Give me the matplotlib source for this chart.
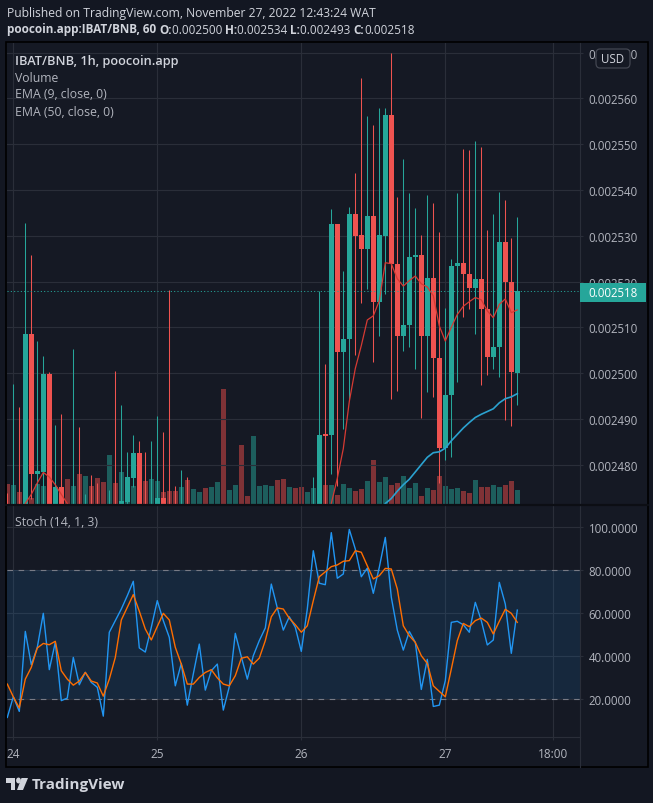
import numpy as np
import matplotlib
matplotlib.use("Agg")
import matplotlib.pyplot as plt
from matplotlib.patches import Rectangle, FancyBboxPatch, Circle, Polygon
from matplotlib.ticker import FixedLocator, FuncFormatter

plt.rcParams['font.family'] = ['Open Sans', 'DejaVu Sans']

W, H = 653, 804
BG = '#131722'
PANE = '#151924'
GRID = '#2a2e39'
TXT = '#d1d4dc'
AXT = '#b2b5be'
UP = '#26a69a'
DN = '#ef5350'
UP_VOL = '#1d5e5d'
DN_VOL = '#7f3236'

# 1h bars, bar 0 = Nov 24 00:00 ; prices in 1e-6 BNB (bodies under ~2471 sit below the pane)
bars = np.arange(-1, 85)
opens = [2466, 2462, 2466, 2463, 2508.6, 2478, 2478.3, 2499.9, 2466, 2475.2,
         2465, 2462, 2465, 2461, 2464, 2461, 2459, 2457, 2467, 2465,
         2471.8, 2477, 2482.6, 2466, 2463, 2467, 2472.8, 2467, 2464, 2462,
         2465, 2461, 2463, 2466, 2462, 2464, 2467, 2458, 2461, 2464,
         2457, 2456, 2466, 2467, 2468, 2469.5, 2467, 2465, 2467, 2466,
         2464.5, 2466, 2469, 2486.6, 2486.4, 2532.5, 2504.6, 2507.4, 2534.8, 2530.2,
         2527, 2534.3, 2515.6, 2530, 2556.3, 2523.9, 2508.2, 2510.4, 2525.3, 2525.8,
         2508, 2520.8, 2503.3, 2483.6, 2495.3, 2523.3, 2524.1, 2521.7, 2518.6, 2520.6,
         2514, 2503.6, 2505.6, 2528.6, 2519.9, 2500]
highs = [2473.7, 2497.7, 2492.6, 2532.8, 2525.8, 2507, 2503.8, 2500.2, 2488.7, 2491.1,
         2468, 2505.3, 2488.3, 2473.5, 2477.8, 2476, 2465, 2474.5, 2500.5, 2493.1,
         2482.8, 2486.5, 2485.2, 2482.8, 2485.2, 2490.7, 2487.2, 2518.2, 2475.4, 2478.9,
         2477.2, 2466, 2467, 2468, 2466, 2469, 2469, 2463, 2466, 2466,
         2460, 2468, 2469, 2470, 2470.5, 2470, 2468, 2468, 2468, 2467,
         2467, 2477.2, 2518, 2502, 2535.8, 2532.5, 2522.3, 2536.3, 2543.7, 2564.4,
         2556.1, 2554.2, 2557.9, 2557.9, 2570, 2538.5, 2546.8, 2539.3, 2536, 2530.2,
         2538.8, 2537.2, 2530.8, 2514.2, 2525, 2539.3, 2548.9, 2548.7, 2550.7, 2549.4,
         2531.3, 2534.8, 2539.6, 2537.7, 2529.5, 2534]
lows = [2455, 2458, 2459, 2460, 2472.6, 2468, 2470, 2462, 2463, 2461,
        2458, 2459, 2457, 2458, 2457, 2455, 2453, 2454, 2460, 2462,
        2469, 2475.2, 2463, 2460, 2461, 2464, 2463, 2460, 2458, 2459,
        2458, 2458, 2460, 2459, 2459, 2461, 2452, 2455, 2458, 2453,
        2454, 2455, 2463, 2464, 2465, 2465, 2463, 2463, 2464, 2463,
        2463, 2464, 2467, 2468, 2478, 2475.4, 2487.8, 2494.4, 2504, 2515.3,
        2518.4, 2502.5, 2508.1, 2517.3, 2494.4, 2496, 2504.9, 2505.7, 2500.9, 2490.1,
        2495.9, 2494.8, 2476, 2481, 2481.7, 2498.1, 2512.3, 2514, 2508.6, 2497.3,
        2499.5, 2500.9, 2499.2, 2489.7, 2488.5, 2493]
closes = [2462, 2466, 2463, 2508.6, 2478, 2478.5, 2499.9, 2466, 2475.2, 2465,
          2462, 2465, 2461, 2464, 2461, 2459, 2457, 2467, 2465, 2472,
          2477.2, 2482.6, 2466, 2463, 2467, 2472.8, 2467, 2464, 2462, 2465,
          2461, 2463, 2466, 2462, 2464, 2467, 2458, 2461, 2464, 2457,
          2456, 2466, 2467, 2468, 2469.5, 2467, 2465, 2467, 2466, 2464.5,
          2466, 2469, 2486.5, 2486.3, 2532.5, 2504.6, 2507.5, 2534.8, 2530, 2527,
          2534.3, 2515.6, 2530.2, 2556.3, 2523.9, 2508.2, 2510.5, 2525.4, 2525.8, 2508,
          2520.8, 2503.3, 2483.6, 2495.3, 2523.4, 2524.1, 2521.7, 2518.6, 2520.6, 2514,
          2503.6, 2505.7, 2528.6, 2519.9, 2500.2, 2518]
volume = [20, 19, 12, 15, 6, 20, 18, 15, 14, 14,
          25, 18, 30, 28, 18, 26, 22, 49, 21, 32,
          25, 18, 20, 23, 25, 23, 12, 13, 13, 17,
          24, 15, 12, 16, 17, 22, 115, 14, 19, 59,
          8, 68, 18, 19, 18, 24, 25, 17, 16, 17,
          12, 16, 20, 19, 19, 9, 20, 16, 13, 15,
          23, 44, 22, 27, 19, 21, 28, 16, 21, 8,
          16, 14, 28, 18, 15, 16, 13, 11, 24, 17,
          17, 19, 17, 19, 23, 14]

nan = np.nan
ema9 = [nan, nan, 2466, 2471.5, 2473.5, 2476, 2478.3, 2477.3, 2475.6, 2473.5,
        2471.5, 2469, nan, nan, nan, nan, nan, nan, nan, nan,
        nan, nan, nan, nan, nan, nan, nan, nan, nan, nan,
        nan, nan, nan, nan, nan, nan, nan, nan, nan, nan,
        nan, nan, nan, nan, nan, nan, nan, nan, nan, nan,
        nan, nan, 2464, 2467, 2471.5, 2477, 2483.5, 2493.8, 2501, 2506,
        2511.6, 2512.5, 2515.8, 2524.1, 2523.9, 2520.6, 2519, 2520.2, 2521.2, 2519.5,
        2518.8, 2516.9, 2510.3, 2507, 2510, 2512.8, 2514.6, 2515.6, 2516.5, 2516,
        2513.6, 2512.1, 2515, 2516.2, 2513.2, 2513.8]
ema50 = [nan] * 61 + [2466, 2469, 2471.5, 2472.6, 2474.2, 2475.6, 2476.8, 2478.4, 2480,
                      2481.6, 2482.6, 2482.8, 2483.6, 2485.2, 2486.6, 2488, 2489.2, 2490.3,
                      2491, 2491.6, 2492.2, 2493.5, 2494.4, 2494.8, 2495.5]

stoch_k = [11.6, 21.2, 14.4, 51.6, 36.1, 44.2, 60, 33.8, 46.5, 19.4,
           20.6, 39.5, 26.8, 32.6, 27.9, 25.6, 12.2, 51.2, 56.6, 62,
           68.2, 74.9, 43.9, 42, 53.5, 65.9, 56.6, 48.8, 26.3, 36.7,
           17.3, 31.8, 45.7, 24.3, 33.3, 36.4, 15, 25.9, 50.7, 39.8,
           29.4, 40.3, 47.3, 53.2, 73.6, 62.5, 52.2, 58.4, 53.5, 42.3,
           62, 89.1, 74, 73.3, 97.5, 76.3, 78.3, 99, 89.9, 77,
           81, 69.3, 81.4, 95.3, 67.5, 52.2, 42.9, 51.6, 46.5, 24.6,
           38.6, 16.7, 17.3, 28.7, 55.8, 56.3, 54.7, 51.2, 65.1, 56.6,
           45.3, 47.6, 74.4, 64.3, 41.4, 61.5]
stoch_d = [27.1, 21.2, 16, 29.4, 34.9, 43.9, 46, 45.4, 47, 33.3,
           29.4, 26.6, 28.5, 32.5, 28.5, 27.6, 21.5, 29.4, 39.5, 56.9,
           62.8, 68.7, 61, 52.7, 47.6, 53.9, 60, 56.9, 44.2, 36.4,
           27.1, 27.1, 30.2, 32.5, 33.8, 30, 27.1, 26.3, 31, 39.1,
           39.8, 36.4, 39.2, 47.3, 58.4, 62.5, 62, 57.7, 54.7, 51.2,
           54.2, 65.9, 77, 79.3, 81.7, 82.5, 84.2, 84.5, 89.1, 88.4,
           82.1, 76, 77.5, 80.9, 80.6, 71.3, 54.2, 49.6, 46.5, 40.3,
           36.7, 26.3, 23.7, 21.2, 34.1, 47.3, 55.3, 53.8, 56.6, 57.8,
           55.8, 50.4, 56.3, 61.9, 60, 55.8]

price_ticks = [2480, 2490, 2500, 2510, 2520, 2530, 2540, 2550, 2560, 2570]
stoch_ticks = [20, 40, 60, 80, 100]
day_ticks = [0, 24, 48, 72, 90]
day_labels = ['24', '25', '26', '27', '18:00']
last_price = 2518

o = np.array(opens) * 1e-6
hi = np.array(highs) * 1e-6
lo = np.array(lows) * 1e-6
c = np.array(closes) * 1e-6
up = c >= o
col = np.where(up, UP, DN)
vcol = np.where(up, UP_VOL, DN_VOL)


def fx(x):
    return x / W


def fy(y):
    return 1 - y / H


fig = plt.figure(figsize=(W / 100, H / 100), dpi=100, facecolor=BG)

L, R = 7, 580
p_top, p_bot = 44, 505
s_top, s_bot = 507, 738
p_rect = [fx(L), fy(p_bot), (R - L) / W, (p_bot - p_top) / H]
s_rect = [fx(L), fy(s_bot), (R - L) / W, (s_bot - s_top) / H]

# chart background incl. scale area
fig.patches.append(Rectangle((fx(6), fy(768)), (648 - 6) / W, (768 - 43) / H,
                             transform=fig.transFigure, facecolor=PANE,
                             edgecolor='black', lw=1.2, zorder=-5))

xlim = (-1.05, 94.45)

# volume underneath
axv = fig.add_axes(p_rect)
axv.set_facecolor('none')
axv.bar(bars, volume, width=0.83, color=vcol, zorder=1)
axv.set_xlim(*xlim)
axv.set_ylim(0, max(volume) / 0.249)
axv.axis('off')

ax = fig.add_axes(p_rect)
ax.patch.set_visible(False)
ax.set_xlim(*xlim)
ax.set_ylim(2471.4e-6, 2572.1e-6)
for yv in price_ticks:
    ax.axhline(yv * 1e-6, color=GRID, lw=0.8, zorder=0)
for xv in day_ticks:
    ax.axvline(xv, color=GRID, lw=0.8, zorder=0)

ax.vlines(bars, lo, hi, colors=col, lw=0.75, zorder=3)
body = np.maximum(np.abs(c - o), 0.25e-6)
ax.bar(bars, body, bottom=np.minimum(o, c), width=0.83, color=col, zorder=4)
ax.plot(bars, np.array(ema9) * 1e-6, color='#d63a33', lw=0.9, zorder=5)
ax.plot(bars, np.array(ema50) * 1e-6, color='#2ba2d0', lw=1.2, zorder=5)
ax.axhline(last_price * 1e-6, color=UP, lw=0.75, ls=(0, (1, 2.2)), zorder=6)

ax.yaxis.tick_right()
ax.yaxis.set_major_locator(FixedLocator([v * 1e-6 for v in price_ticks]))
ax.yaxis.set_major_formatter(FuncFormatter(lambda v, p: '%.6f' % v))
ax.tick_params(axis='y', colors=GRID, labelcolor=AXT, labelsize=8.3, length=2.5, pad=3.6)
ax.set_xticks([])
for s in ['top', 'left', 'bottom']:
    ax.spines[s].set_visible(False)
ax.spines['right'].set_color(GRID)

# stochastic pane
axs = fig.add_axes(s_rect)
axs.set_facecolor('none')
axs.set_xlim(*xlim)
axs.set_ylim(2.5, 109.9)
for yv in stoch_ticks:
    axs.axhline(yv, color=GRID, lw=0.8, zorder=0)
for xv in day_ticks:
    axs.axvline(xv, color=GRID, lw=0.8, zorder=0)
axs.axhspan(20, 80, color='#2196f3', alpha=0.12, lw=0, zorder=1)
axs.axhline(80, color='#787b86', lw=0.8, ls=(0, (5, 5)), zorder=2)
axs.axhline(20, color='#787b86', lw=0.8, ls=(0, (5, 5)), zorder=2)
axs.plot(bars, stoch_k, color='#2196f3', lw=1.0, zorder=4)
axs.plot(bars, stoch_d, color='#ff6d00', lw=1.0, zorder=5)
axs.yaxis.tick_right()
axs.set_yticks(stoch_ticks)
axs.set_yticklabels(['%.4f' % v for v in stoch_ticks])
axs.tick_params(axis='y', colors=GRID, labelcolor=AXT, labelsize=8.3, length=2.5, pad=3.6)
axs.set_xticks(day_ticks)
axs.set_xticklabels(day_labels)
axs.tick_params(axis='x', colors=GRID, labelcolor=AXT, labelsize=8.5, length=2.5, pad=5)
for s in ['top', 'left']:
    axs.spines[s].set_visible(False)
axs.spines['right'].set_color(GRID)
axs.spines['bottom'].set_color(GRID)

# pane separators
fig.add_artist(plt.Line2D([fx(6), fx(648)], [fy(506), fy(506)], color='#0c0e14', lw=1.6))
fig.add_artist(plt.Line2D([fx(R), fx(R)], [fy(738), fy(768)], color=GRID, lw=0.8))

# header texts
fig.text(fx(7), fy(13), 'Published on TradingView.com, November 27, 2022 12:43:24 WAT',
         color=TXT, fontsize=8.75, va='center')
rend = fig.canvas.get_renderer()
runs = [('poocoin.app:IBAT/BNB, 60 ', 'bold'), ('O:', 'bold'), ('0.002500 ', 'normal'),
        ('H:', 'bold'), ('0.002534 ', 'normal'), ('L:', 'bold'), ('0.002493 ', 'normal'),
        ('C:', 'bold'), ('0.002518', 'normal')]
xx = 7
for s, wt in runs:
    t = fig.text(fx(xx), fy(30), s, color=TXT, fontsize=8.5, fontweight=wt, va='center')
    xx += t.get_window_extent(rend).width

# legends
fig.text(fx(15), fy(61), 'IBAT/BNB, 1h, poocoin.app', color=TXT, fontsize=9.2,
         fontweight='semibold', va='center')
fig.text(fx(15), fy(78), 'Volume', color=AXT, fontsize=8.8, va='center')
fig.text(fx(15), fy(95), 'EMA (9, close, 0)', color=AXT, fontsize=8.8, va='center')
fig.text(fx(15), fy(112), 'EMA (50, close, 0)', color=AXT, fontsize=8.8, va='center')
fig.text(fx(15), fy(523), 'Stoch (14, 1, 3)', color=AXT, fontsize=8.8, va='center')

# USD button (covers part of the top price label, as in the original)
fig.patches.append(FancyBboxPatch((fx(596), fy(69)), 34 / W, 19 / H,
                                  boxstyle='round,pad=0,rounding_size=0.006',
                                  transform=fig.transFigure, facecolor=PANE,
                                  edgecolor='#434651', lw=0.9, zorder=2))
fig.text(fx(613), fy(59.5), 'USD', color=TXT, fontsize=8.3, ha='center', va='center', zorder=3)

# last price label
fig.patches.append(Rectangle((fx(580), fy(302.7)), 66 / W, 18.4 / H,
                             transform=fig.transFigure, facecolor=UP, lw=0, zorder=2))
fig.text(fx(588.5), fy(293.5), '0.002518', color='white', fontsize=8.3, va='center', zorder=3)

# TradingView logo
fig.patches.append(Rectangle((fx(6), fy(784)), 9 / W, 5 / H, transform=fig.transFigure,
                             facecolor=TXT, lw=0))
fig.patches.append(Rectangle((fx(11), fy(791)), 4 / W, 12 / H, transform=fig.transFigure,
                             facecolor=TXT, lw=0))
fig.patches.append(Circle((fx(18.5), fy(781.5)), 2.4 / W, transform=fig.transFigure,
                          facecolor=TXT, lw=0))
fig.patches.append(Polygon([(fx(21.5), fy(779)), (fx(28), fy(779)), (fx(23), fy(791)),
                            (fx(17), fy(791))], transform=fig.transFigure, facecolor=TXT, lw=0))
fig.text(fx(32), fy(785), 'TradingView', color=TXT, fontsize=11, fontweight='bold', va='center')

fig.savefig('out.png', dpi=100, facecolor=BG)
